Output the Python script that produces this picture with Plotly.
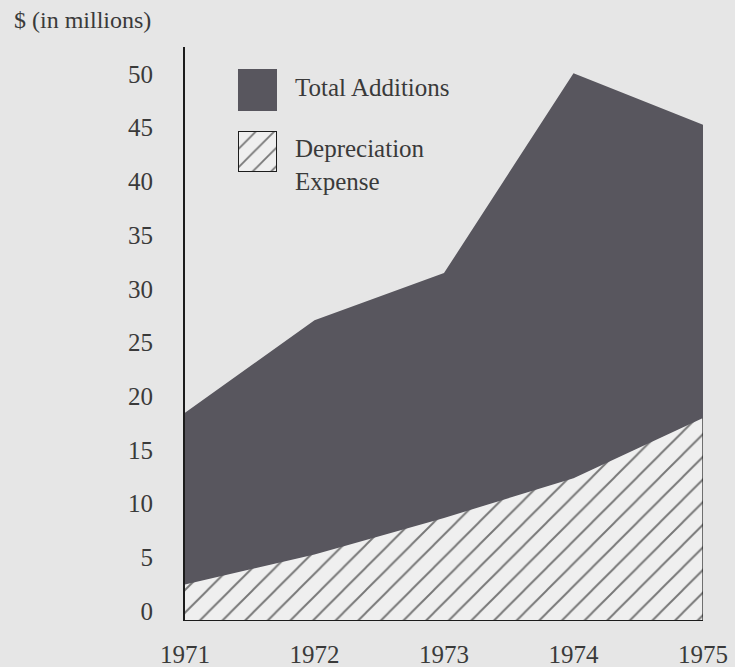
import plotly.graph_objects as go

# Capital spending, $ millions
years = [1971, 1972, 1973, 1974, 1975]
year_labels = ["1971", "1972", "1973", "1974", "1975"]
total_additions = [19.3, 27.9, 32.3, 50.9, 46.1]
depreciation_expense = [3.3, 6.1, 9.5, 13.2, 18.8]
y_ticks = [0, 5, 10, 15, 20, 25, 30, 35, 40, 45, 50]

BG = "#e6e6e6"
DARK = "#58565e"
HATCH_BG = "#efefef"
INK = "#1c1c1c"
TEXT = "#3a3a3a"
FONT = "Liberation Serif"

fig = go.Figure()

# Total additions: solid dark area
fig.add_trace(go.Scatter(
    x=years, y=total_additions, mode="lines", fill="tozeroy",
    fillcolor=DARK, line=dict(width=0, color=DARK),
    name="Total Additions", hoverinfo="skip",
))

# Depreciation expense: hatched area drawn over the total
fig.add_trace(go.Scatter(
    x=years, y=depreciation_expense, mode="lines", fill="tozeroy",
    fillcolor=HATCH_BG,
    fillpattern=dict(shape="/", size=16, solidity=0.12,
                     fgcolor="#000000", bgcolor=HATCH_BG),
    line=dict(width=0, color=HATCH_BG),
    name="Depreciation Expense", hoverinfo="skip",
))

# Closing edge of the hatched area at the last year
fig.add_trace(go.Scatter(
    x=[years[-1], years[-1]], y=[0, depreciation_expense[-1]],
    mode="lines", line=dict(width=1.2, color=INK), hoverinfo="skip",
))

# Hatched legend key, drawn in its own small axis box
fig.add_trace(go.Scatter(
    x=[0, 1, 1, 0, 0], y=[0, 0, 1, 1, 0], mode="lines", fill="toself",
    fillcolor=HATCH_BG,
    fillpattern=dict(shape="/", size=13, solidity=0.14,
                     fgcolor="#000000", bgcolor=HATCH_BG),
    line=dict(width=2, color=INK), xaxis="x2", yaxis="y2", hoverinfo="skip",
))

fig.update_layout(
    width=735, height=667,
    margin=dict(l=185, r=32, t=47, b=47),
    paper_bgcolor=BG, plot_bgcolor=BG,
    showlegend=False, hovermode=False,
    font=dict(family=FONT, size=25, color=TEXT),
    xaxis=dict(
        range=[years[0], years[-1]], tickvals=years, ticktext=year_labels,
        showgrid=False, zeroline=False, showline=True, linecolor=INK,
        linewidth=1.3, ticks="", ticklabelstandoff=12, automargin=False,
        tickfont=dict(family=FONT, size=25, color=TEXT),
    ),
    yaxis=dict(
        range=[0, 53.35], tickvals=y_ticks,
        showgrid=False, zeroline=False, showline=True, linecolor=INK,
        linewidth=2.2, ticks="", ticklabelstandoff=25, ticklabelshift=-9,
        automargin=False,
        tickfont=dict(family=FONT, size=25, color=TEXT),
    ),
    xaxis2=dict(domain=[0.1023, 0.1776], range=[0, 1], visible=False,
                anchor="y2", fixedrange=True),
    yaxis2=dict(domain=[0.7818, 0.8534], range=[0, 1], visible=False,
                anchor="x2", fixedrange=True),
    shapes=[
        dict(type="rect", xref="paper", yref="paper",
             x0=0.1023, x1=0.1776, y0=0.8883, y1=0.9616,
             fillcolor=DARK, line=dict(width=0)),
    ],
    annotations=[
        dict(text="$ (in millions)", xref="paper", yref="paper",
             x=-0.334, y=1.047, xanchor="left", yanchor="middle",
             showarrow=False, font=dict(family=FONT, size=24, color=TEXT)),
        dict(text="Total Additions", xref="paper", yref="paper",
             x=0.2085, y=0.9294, xanchor="left", yanchor="middle",
             showarrow=False, font=dict(family=FONT, size=25, color=TEXT)),
        dict(text="Depreciation<br>Expense", xref="paper", yref="paper",
             x=0.2085, y=0.7932, xanchor="left", yanchor="middle",
             align="left", showarrow=False,
             font=dict(family=FONT, size=25, color=TEXT)),
    ],
)

fig.write_html("out.html")
